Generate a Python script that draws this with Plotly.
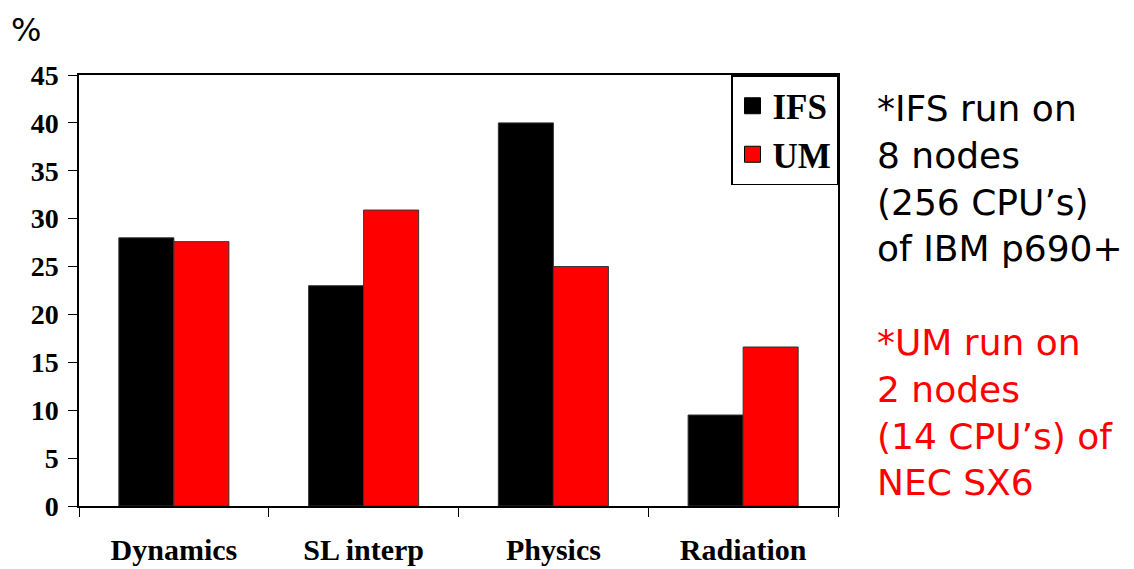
import plotly.graph_objects as go

categories = ["Dynamics", "SL interp", "Physics", "Radiation"]
ifs_values = [28.0, 23.0, 40.0, 9.5]
um_values = [27.6, 30.9, 25.0, 16.6]
y_ticks = [0, 5, 10, 15, 20, 25, 30, 35, 40, 45]
series_names = ["IFS", "UM"]
series_colors = ["#000000", "#ff0000"]

serif = "Liberation Serif"
side_font = "DejaVu Sans"

fig = go.Figure()
for name, vals, col in zip(series_names, [ifs_values, um_values], series_colors):
    fig.add_trace(go.Bar(x=categories, y=vals, name=name, showlegend=False,
                         marker=dict(color=col, line=dict(color="#333333", width=1))))
# legend-only entries with larger square swatches
for name, col in zip(series_names, series_colors):
    fig.add_trace(go.Scatter(x=[None], y=[None], mode="markers", name=name,
                             marker=dict(symbol="square", size=20, color=col,
                                         line=dict(color="black", width=1))))

fig.update_layout(
    width=1134, height=569,
    margin=dict(l=79, r=296, t=75, b=63, autoexpand=False),
    paper_bgcolor="white", plot_bgcolor="white",
    barmode="group", bargap=0.42, bargroupgap=0,
    showlegend=True,
    legend=dict(x=1, y=1, xanchor="right", yanchor="top",
                bordercolor="black", borderwidth=1.5, bgcolor="white",
                font=dict(family=serif, size=35, color="black", weight="bold"),
                itemwidth=30, tracegroupgap=0),
    font=dict(family=serif, color="black"),
)
fig.update_xaxes(
    type="category", showline=True, linecolor="black", linewidth=1.5, mirror=True,
    ticks="outside", tickson="boundaries", ticklen=9, tickcolor="black",
    tickfont=dict(family=serif, size=30, color="black", weight="bold"),
    ticklabelstandoff=16, showgrid=False, automargin=False,
)
fig.update_yaxes(
    range=[0, 45], tickvals=y_ticks, showline=True, linecolor="black", linewidth=1.5,
    mirror=True, ticks="outside", ticklen=9, tickcolor="black",
    tickfont=dict(family=serif, size=28, color="black", weight="bold"),
    showgrid=False, zeroline=False, ticklabelstandoff=4, automargin=False,
)

fig.add_annotation(text="%", xref="paper", yref="paper", x=-0.07, y=1.104,
                   xanchor="center", yanchor="middle", showarrow=False,
                   font=dict(family=side_font, size=32, color="black"))

black_lines = ["*IFS run on", "8 nodes", "(256 CPU’s)", "of IBM p690+"]
red_lines = ["*UM run on", "2 nodes", "(14 CPU’s) of", "NEC SX6"]
fig.add_annotation(text="<br>".join(black_lines), xref="paper", yref="paper",
                   x=1.049, y=0.76, xanchor="left", yanchor="middle", align="left",
                   showarrow=False,
                   font=dict(family=side_font, size=36, color="black"))
fig.add_annotation(text="<br>".join(red_lines), xref="paper", yref="paper",
                   x=1.049, y=0.218, xanchor="left", yanchor="middle", align="left",
                   showarrow=False,
                   font=dict(family=side_font, size=36, color="#ff0000"))

fig.write_html("out.html")
